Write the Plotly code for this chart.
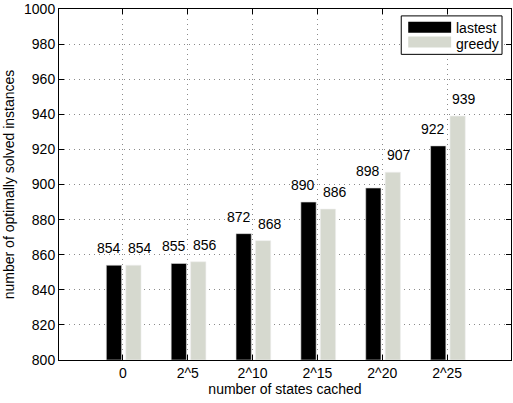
import plotly.graph_objects as go

categories = ['0', '2^5', '2^10', '2^15', '2^20', '2^25']
lastest = [854, 855, 872, 890, 898, 922]
greedy = [854, 856, 868, 886, 907, 939]
y_min = 800

x_idx = list(range(len(categories)))
font = dict(family='Liberation Sans, Arial, sans-serif', size=14, color='black')

fig = go.Figure()
fig.add_trace(go.Bar(
    x=x_idx, y=[v - y_min for v in lastest], base=y_min, name='lastest',
    marker=dict(color='black', line=dict(color='#d8d8d8', width=0.6)),
    width=0.235, offset=-0.255, showlegend=False
))
fig.add_trace(go.Bar(
    x=x_idx, y=[v - y_min for v in greedy], base=y_min, name='greedy',
    marker=dict(color='#d6d9cf', line=dict(color='#eeeeee', width=0.6)),
    width=0.235, offset=0.045, showlegend=False
))

# value labels above bars
for i, (a, b) in enumerate(zip(lastest, greedy)):
    fig.add_annotation(x=i - 0.215, y=a, text=str(a), showarrow=False,
                       yshift=17, font=font)
    fig.add_annotation(x=i + 0.265, y=b, text=str(b), showarrow=False,
                       yshift=17, font=font)

# legend drawn by hand, MATLAB style
def px(x):
    return (x - 59) / 453

def py(y):
    return (360 - y) / 356

fig.add_shape(type='rect', xref='paper', yref='paper',
              x0=px(402), x1=px(503), y0=py(50), y1=py(11),
              line=dict(color='black', width=1), fillcolor='white')
fig.add_shape(type='rect', xref='paper', yref='paper',
              x0=px(409), x1=px(452), y0=py(28), y1=py(17),
              line=dict(width=0), fillcolor='black')
fig.add_shape(type='rect', xref='paper', yref='paper',
              x0=px(409), x1=px(452), y0=py(43), y1=py(32),
              line=dict(width=0), fillcolor='#d6d9cf')
fig.add_annotation(xref='paper', yref='paper', x=px(455), y=py(23), text='lastest',
                   showarrow=False, xanchor='left', yanchor='middle', font=font)
fig.add_annotation(xref='paper', yref='paper', x=px(455), y=py(39), text='greedy',
                   showarrow=False, xanchor='left', yanchor='middle', font=font)

fig.update_layout(
    width=513, height=403,
    margin=dict(l=59, r=1, t=4, b=43),
    plot_bgcolor='white', paper_bgcolor='white',
    font=font,
    barmode='overlay',
)
fig.update_xaxes(
    range=[-0.985, 5.985], tickmode='array', tickvals=x_idx, ticktext=categories,
    showline=True, linecolor='black', linewidth=1, mirror='ticks',
    ticks='inside', ticklen=5, tickcolor='black',
    showgrid=True, gridcolor='#8a8a8a', griddash='1px,4px', gridwidth=1,
    zeroline=False,
    title=dict(text='number of states cached', font=font, standoff=1),
)
fig.update_yaxes(
    range=[800, 1000], tickmode='linear', tick0=800, dtick=20,
    showline=True, linecolor='black', linewidth=1, mirror='ticks',
    ticks='inside', ticklen=5, tickcolor='black', ticklabeloverflow='allow',
    showgrid=True, gridcolor='#8a8a8a', griddash='1px,4px', gridwidth=1,
    zeroline=False,
    title=dict(text='number of optimally solved instances', font=font, standoff=6),
)

fig.write_html('out.html', config={'displayModeBar': False},
               post_script="document.body.style.margin='0';")
